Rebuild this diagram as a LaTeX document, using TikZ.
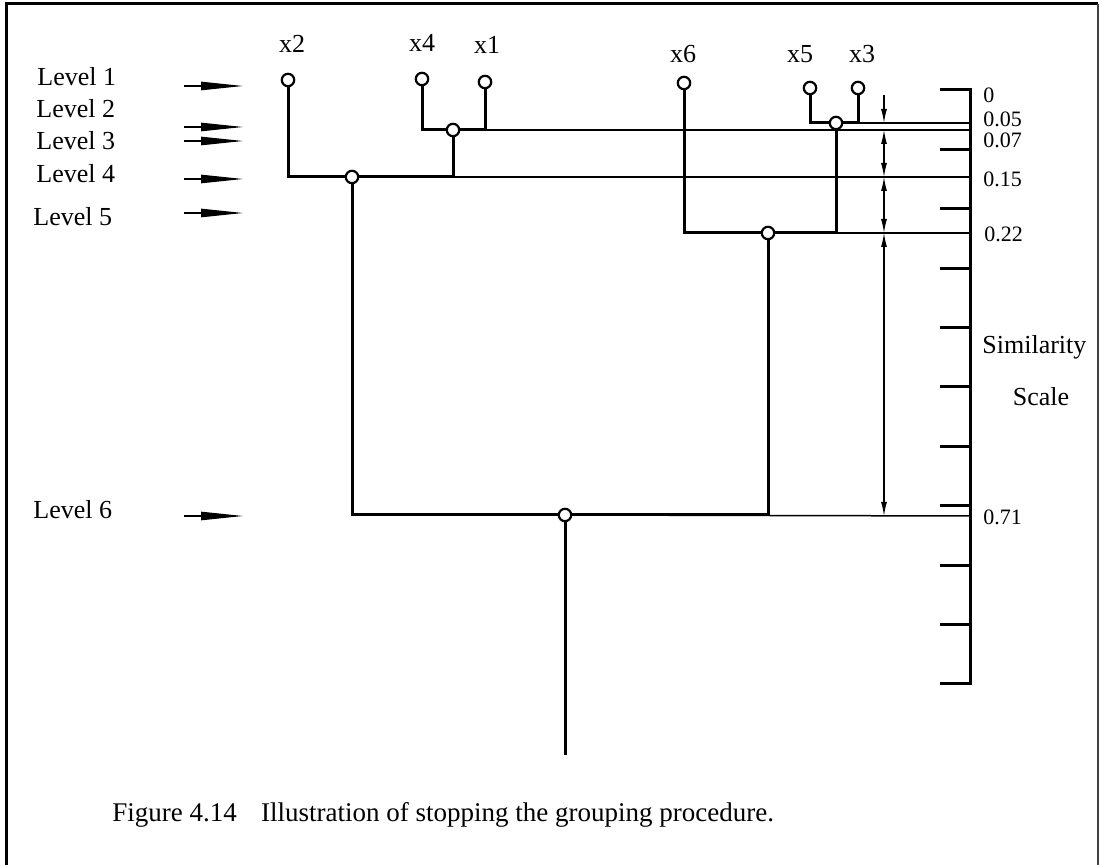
\documentclass[tikz,border=0pt]{standalone}
\usepackage{fontspec}
\setmainfont{Liberation Serif}
\usetikzlibrary{arrows.meta,positioning}

\begin{document}
\begin{tikzpicture}[x=0.5pt,y=-0.5pt,
 >={Latex[length=7pt,width=3pt]},
 leaf/.style={circle,draw,fill=white,line width=1.1pt,minimum size=6.2pt,inner sep=0pt},
 lab/.style={font=\fontsize{13}{15}\selectfont,inner sep=0pt},
 num/.style={font=\fontsize{11}{13}\selectfont,anchor=west,inner sep=0pt},
 stem/.style={line width=1.5pt},
 lvl/.style={line width=0.75pt},
 levarr/.style={line width=0.6pt,-{Triangle[length=21pt,width=4.2pt]}},
 dimarr/.style={line width=0.6pt}]
 \useasboundingbox (0,0) rectangle (1100,865);
 % frame
 \draw[line width=1.5pt] (6,865) -- (6,4) -- (1098,4);
 \draw[line width=1pt,black!75] (1098,4) -- (1098,865);
 % level labels and arrows
 \foreach \n/\x/\y/\ay in {1/37/77/86,2/36/109/127,3/36/141/141,4/36/174/179,5/33/217/213,6/33/510/516}{
   \node[lab,anchor=west] (lv\n) at (\x,\y) {Level \n};
   \coordinate (s\n) at (184,\ay); \coordinate (t\n) at (243,\ay);
   \draw[levarr] (s\n) -- (t\n);
 }
 % scale axis
 \coordinate (a05) at (970,123); \coordinate (a07) at (970,130);
 \coordinate (a15) at (970,177); \coordinate (a22) at (970,233);
 \coordinate (a71) at (970,516);
 \draw[stem] (940,90) -- (970,90) -- (970,684) -- (940,684);
 \foreach \i in {1,...,9} \draw[stem] (940,{90+59.4*\i}) -- (970,{90+59.4*\i});
 \node[num] (n0) at (983,95) {0};
 \node[num] (n05) at (983,119) {0.05};
 \node[num] (n07) at (983,140) {0.07};
 \node[num] (n15) at (983,179) {0.15};
 \node[num] (n22) at (984,234) {0.22};
 \node[num] (n71) at (983,517) {0.71};
 \node[lab,anchor=west] (sim) at (982,347) {Similarity};
 \node[lab] (scl) at (1041,397) {Scale};
 % leaves
 \node[leaf] (x2) at (288,80) {};
 \node[leaf] (x4) at (422,79) {};
 \node[leaf] (x1) at (485,82) {};
 \node[leaf] (x6) at (684,83) {};
 \node[leaf] (x5) at (810,88) {};
 \node[leaf] (x3) at (858,88) {};
 \node[lab,anchor=base] (l2) at (292,53) {x2};
 \node[lab,anchor=base] (l4) at (422,52) {x4};
 \node[lab,anchor=base] (l1) at (487,54) {x1};
 \node[lab,anchor=base] (l6) at (683,63) {x6};
 \node[lab,anchor=base] (l5) at (800,63) {x5};
 \node[lab,anchor=base] (l3) at (862,63) {x3};
 % joins
 \node[leaf] (j41) at (453,130) {};
 \node[leaf] (j53) at (836,123) {};
 \node[leaf] (j24) at (352,177) {};
 \node[leaf] (j6) at (768,233) {};
 \node[leaf] (jr) at (565,515) {};
 \coordinate (root) at (565,755);
 % level lines
 \draw[lvl] (j53) -- (a05); \draw[lvl] (j41) -- (a07);
 \draw[lvl] (j24) -- (a15); \draw[lvl] (j6) -- (a22);
 \draw[lvl] (jr) -- (a71);
 % tree
 \draw[stem] (x4) |- (j41); \draw[stem] (x1) |- (j41);
 \draw[stem] (x5) |- (j53); \draw[stem] (x3) |- (j53);
 \draw[stem] (x2) |- (j24); \draw[stem] (j41) |- (j24);
 \draw[stem] (x6) |- (j6); \draw[stem] (j53) |- (j6);
 \draw[stem] (j24) |- (jr); \draw[stem] (j6) |- (jr);
 \draw[stem] (jr) -- (root);
 % distances between levels
 \coordinate (d0) at (884,95); \coordinate (d05) at (884,123);
 \coordinate (d07) at (884,130); \coordinate (d15) at (884,177);
 \coordinate (d22) at (884,233); \coordinate (d71) at (884,516);
 \draw[dimarr,->] (d0) -- (d05);
 \draw[dimarr,<->] (d07) -- (d15);
 \draw[dimarr,<->] (d15) -- (d22);
 \draw[dimarr,<->] (d22) -- (d71);
 % caption
 \node[font=\fontsize{13.5}{16}\selectfont,anchor=base west,inner sep=0pt] (cap) at (112,822)
   {Figure 4.14\hspace{0.9em}Illustration of stopping the grouping procedure.};
\end{tikzpicture}
\end{document}
